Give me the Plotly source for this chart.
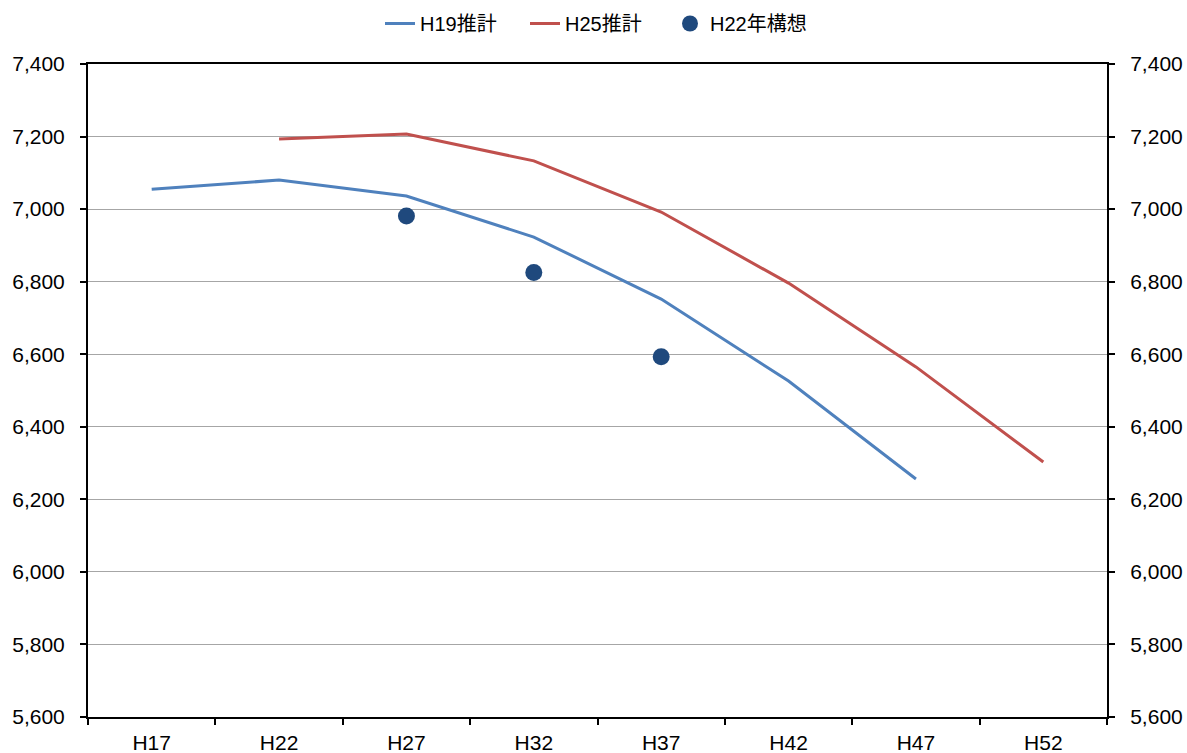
import plotly.graph_objects as go

categories = ["H17", "H22", "H27", "H32", "H37", "H42", "H47", "H52"]
h19 = [7055, 7080, 7036, 6923, 6752, 6526, 6256, None]
h25 = [None, 7193, 7207, 7133, 6992, 6796, 6565, 6303]
h22_cat = ["H27", "H32", "H37"]
h22 = [6981, 6825, 6593]
y_ticks = list(range(5600, 7401, 200))

FONT = "Liberation Sans, Arial, Noto Sans CJK JP, sans-serif"

fig = go.Figure()
fig.add_trace(go.Scatter(x=categories, y=h19, mode="lines", name="H19推計",
                         line=dict(color="#4F81BD", width=3)))
fig.add_trace(go.Scatter(x=categories, y=h25, mode="lines", name="H25推計",
                         line=dict(color="#C0504D", width=3)))
fig.add_trace(go.Scatter(x=h22_cat, y=h22, mode="markers", name="H22年構想",
                         marker=dict(color="#1F497D", size=17)))
# invisible trace to activate right axis
fig.add_trace(go.Scatter(x=categories, y=h25, yaxis="y2", mode="lines",
                         line=dict(width=0), showlegend=False, hoverinfo="skip", opacity=0))

fig.update_layout(
    width=1187, height=753,
    margin=dict(l=88, r=80, t=64, b=36, autoexpand=False),
    plot_bgcolor="white", paper_bgcolor="white",
    font=dict(family=FONT, size=21, color="black"),
    legend=dict(orientation="h", x=0.5, xanchor="center", y=1.062, yanchor="middle",
                font=dict(size=20), itemwidth=30, entrywidth=100, tracegroupgap=0),
    xaxis=dict(type="category", categoryorder="array", categoryarray=categories,
               range=[-0.5, 7.5], tickson="boundaries", ticks="outside", ticklen=6,
               tickwidth=2, tickcolor="black", showline=True, linecolor="black", linewidth=2,
               mirror=True, showgrid=False, zeroline=False, ticklabelstandoff=6,
               automargin=False),
    yaxis=dict(range=[5600, 7400], tickvals=y_ticks, tickformat=",", ticks="outside",
               ticklen=6, tickwidth=2, tickcolor="black", showline=True, linecolor="black",
               linewidth=2, showgrid=True, gridcolor="#A6A6A6", gridwidth=1, zeroline=False,
               ticklabelstandoff=11, automargin=False),
    yaxis2=dict(range=[5600, 7400], tickvals=y_ticks, tickformat=",", ticks="outside",
                ticklen=6, tickwidth=2, tickcolor="black", showline=True, linecolor="black",
                linewidth=2, overlaying="y", side="right", showgrid=False, zeroline=False,
                ticklabelstandoff=11, automargin=False),
)

fig.write_html("out.html", config={"displayModeBar": False},
               post_script="document.body.style.margin='0';document.body.style.overflow='hidden';")
